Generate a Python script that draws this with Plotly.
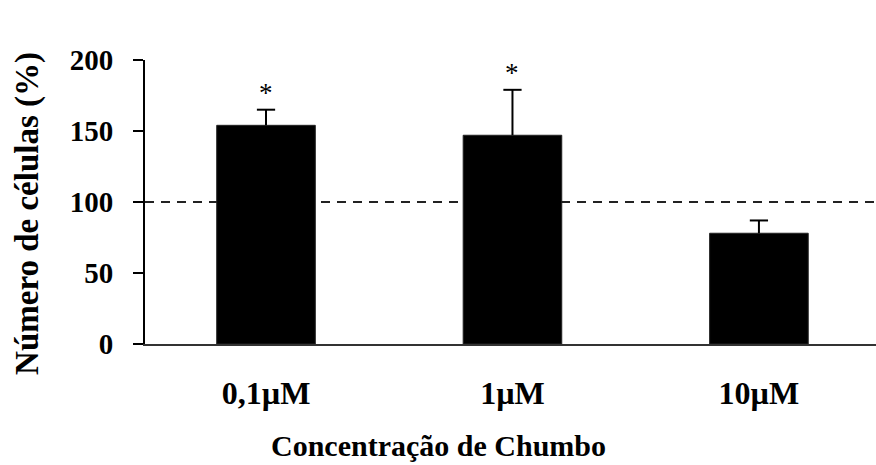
import plotly.graph_objects as go

# Cell count (% of control) after lead exposure
concentrations = ["0,1µM", "1µM", "10µM"]
cell_counts = [154, 147, 78]
errors_up = [11, 32, 9]
significant = [True, True, False]
control_level = 100

y_ticks = [0, 50, 100, 150, 200]

FONT = "Liberation Serif, Times New Roman, serif"
positions = list(range(len(concentrations)))
CAP_HALF = 0.037  # half-width of the error-bar caps, in category units

fig = go.Figure()

fig.add_trace(go.Bar(
    x=positions,
    y=cell_counts,
    width=0.4,
    marker=dict(color="black", line=dict(color="#222", width=1)),
    showlegend=False,
    hoverinfo="skip",
))

# Upper error whiskers: stem from bar top plus a cap
wx, wy = [], []
for xi, v, e in zip(positions, cell_counts, errors_up):
    wx += [xi, xi, None, xi - CAP_HALF, xi + CAP_HALF, None]
    wy += [v, v + e, None, v + e, v + e, None]
fig.add_trace(go.Scatter(
    x=wx, y=wy, mode="lines",
    line=dict(color="black", width=2),
    showlegend=False, hoverinfo="skip",
))

# Control reference line at 100 %
fig.add_shape(
    type="line", xref="paper", x0=0, x1=1, yref="y", y0=control_level, y1=control_level,
    line=dict(color="#222", width=2, dash="9px,7px"), layer="below",
)

annotations = []
for xi, v, e, sig in zip(positions, cell_counts, errors_up, significant):
    if sig:
        annotations.append(dict(
            x=xi, y=v + e, xref="x", yref="y", text="*", showarrow=False,
            yanchor="bottom", yshift=0,
            font=dict(family=FONT, size=27, color="black"),
        ))

annotations.append(dict(
    text="<b>Número de células (%)</b>", textangle=-90, showarrow=False,
    xref="paper", yref="paper", x=0, y=0.458, xanchor="center", yanchor="middle",
    xshift=-117,
    font=dict(family=FONT, size=33, color="black"),
))
annotations.append(dict(
    text="<b>Concentração de Chumbo</b>", showarrow=False,
    xref="paper", yref="paper", x=0.402, y=0, xanchor="center", yanchor="middle",
    yshift=-101,
    font=dict(family=FONT, size=30, color="black"),
))

fig.update_layout(
    width=876, height=465,
    margin=dict(l=145, r=0, t=60, b=121),
    paper_bgcolor="white", plot_bgcolor="white",
    annotations=annotations,
    xaxis=dict(
        range=[-0.491, 2.475],
        tickvals=positions, ticktext=[f"<b>{c}</b>" for c in concentrations],
        showline=True, linecolor="#333", linewidth=2,
        ticks="", showgrid=False, zeroline=False,
        ticklabelstandoff=20,
        tickfont=dict(family=FONT, size=32, color="black"),
    ),
    yaxis=dict(
        range=[0, 200],
        tickvals=y_ticks, ticktext=[f"<b>{t}</b>" for t in y_ticks],
        showline=True, linecolor="black", linewidth=2,
        ticks="outside", ticklen=10, tickwidth=2, tickcolor="black",
        showgrid=False, zeroline=False,
        ticklabelstandoff=14,
        tickfont=dict(family=FONT, size=29, color="black"),
    ),
)

fig.write_html("out.html")
